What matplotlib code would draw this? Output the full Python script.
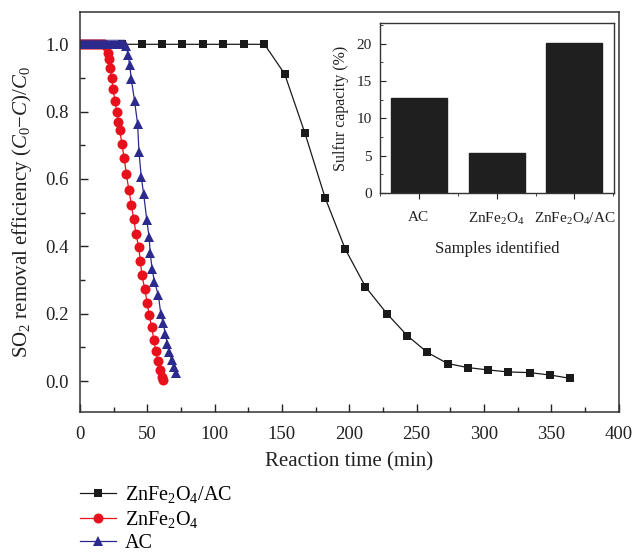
import matplotlib
matplotlib.use("Agg")
import matplotlib.pyplot as plt
from matplotlib.ticker import MultipleLocator, FixedLocator

plt.rcParams['font.family'] = ['Liberation Serif', 'DejaVu Serif']
plt.rcParams['mathtext.fontset'] = 'custom'
plt.rcParams['mathtext.rm'] = 'Liberation Serif'
plt.rcParams['mathtext.it'] = 'Liberation Serif:italic'
plt.rcParams['mathtext.bf'] = 'Liberation Serif:bold'

# ---- main data ----
t_composite = [1, 16, 31, 46, 61, 76, 91, 106, 122, 137, 152, 167, 182, 197, 212,
               228, 243, 258, 273, 288, 303, 318, 334, 349, 364]
e_composite = [1.0, 1.0, 1.0, 1.0, 1.0, 1.0, 1.0, 1.0, 1.0, 1.0, 0.912, 0.737, 0.545,
               0.392, 0.280, 0.200, 0.135, 0.085, 0.052, 0.040, 0.033, 0.027, 0.025,
               0.018, 0.008]

t_znfe = [0, 1.5, 3, 4.5, 6, 7.5, 9, 10.5, 12, 13.5, 15, 16.5, 18, 19.5,
          20.5, 21.5, 22.5, 23.5, 24.5, 26.0, 27.3, 28.5, 29.6, 31.1, 32.9, 34.4,
          36.3, 38.2, 39.9, 41.6, 43.6, 44.8, 46.0, 48.1, 49.9, 51.4, 53.2, 54.9,
          56.3, 58.0, 59.2, 61.0, 62.0]
e_znfe = [1.0, 1.0, 1.0, 1.0, 1.0, 1.0, 1.0, 1.0, 1.0, 1.0, 1.0, 1.0, 1.0, 0.995,
          0.975, 0.955, 0.930, 0.900, 0.867, 0.832, 0.800, 0.770, 0.745, 0.703,
          0.661, 0.614, 0.568, 0.522, 0.480, 0.438, 0.397, 0.357, 0.314, 0.273,
          0.232, 0.195, 0.161, 0.121, 0.089, 0.059, 0.034, 0.012, 0.003]

t_ac = [0, 1.5, 3, 4.5, 6, 7.5, 9, 10.5, 12, 13.5, 15, 16.5, 18, 19.5, 21, 22.5,
        24, 25.5, 27, 28.5, 30, 31.5, 33, 34.3,
        35.7, 36.9, 38.1, 40.5, 42.8, 43.8, 45.5, 47.3, 49.6, 51.3, 52.2, 53.5,
        55.3, 58.2, 60.0, 61.9, 63.2, 64.9, 66.3, 68.1, 69.8, 71.0]
e_ac = [1.0, 1.0, 1.0, 1.0, 1.0, 1.0, 1.0, 1.0, 1.0, 1.0, 1.0, 1.0, 1.0, 1.0, 1.0,
        1.0, 1.0, 1.0, 1.0, 1.0, 1.0, 1.0, 1.0, 0.995,
        0.968, 0.938, 0.896, 0.833, 0.762, 0.681, 0.605, 0.555, 0.478, 0.428,
        0.379, 0.334, 0.295, 0.255, 0.200, 0.171, 0.141, 0.111, 0.086, 0.062,
        0.042, 0.025]

# ---- inset data ----
samples = ['AC', 'ZnFe$_2$O$_4$', 'ZnFe$_2$O$_4$/AC']
capacity = [12.7, 5.4, 20.1]

fig = plt.figure(figsize=(6.34, 5.52), dpi=100)
ax = fig.add_axes([0.1262, 0.2536, 0.8494, 0.7247])

l1, = ax.plot(t_composite, e_composite, color='#1a1a1a', lw=0.9, marker='s',
              ms=6.2, markeredgewidth=0, label='ZnFe$_2$O$_4$/AC')
l2, = ax.plot(t_znfe, e_znfe, color='#e8101c', lw=0.9, marker='o',
              ms=7.2, markeredgewidth=0, label='ZnFe$_2$O$_4$')
l3, = ax.plot(t_ac, e_ac, color='#2c2a8c', lw=0.9, marker='^',
              ms=7.8, markeredgewidth=0, label='AC')

ax.set_xlim(0, 400)
ax.set_ylim(-0.092, 1.096)
ax.xaxis.set_major_locator(MultipleLocator(50))
ax.xaxis.set_minor_locator(MultipleLocator(25))
ax.yaxis.set_major_locator(FixedLocator([0.0, 0.2, 0.4, 0.6, 0.8, 1.0]))
ax.yaxis.set_minor_locator(FixedLocator([0.1, 0.3, 0.5, 0.7, 0.9]))
ax.set_yticklabels(['0.0', '0.2', '0.4', '0.6', '0.8', '1.0'])
ax.tick_params(which='both', direction='in', labelsize=13.5, colors='#222222',
               labelcolor='#222222', pad=8)
ax.tick_params(axis='x', which='both', pad=10)
ax.tick_params(which='major', length=6, width=1)
ax.tick_params(which='minor', length=3.5, width=1)
for s in ax.spines.values():
    s.set_color('#333333')
    s.set_linewidth(1.1)
ax.set_xlabel('Reaction time (min)', fontsize=15, color='#222222', labelpad=7)
ax.set_ylabel('SO$_2$ removal efficiency ($C_0$\u2212$C$)/$C_0$', fontsize=15,
              color='#222222', labelpad=8)

fig.legend(handles=[l1, l2, l3], loc='upper left', bbox_to_anchor=(0.114, 0.138),
           frameon=False, fontsize=14.5, handlelength=1.75, handletextpad=0.45,
           labelspacing=0.2, borderaxespad=0)

# ---- inset ----
ins = fig.add_axes([0.5994, 0.6504, 0.3691, 0.3080])
ins.bar([1, 2, 3], capacity, width=0.72, color='#1f1f1f', edgecolor='#1f1f1f')
ins.set_xlim(0.5, 3.51)
ins.set_ylim(0, 22.8)
ins.set_xticks([1, 2, 3])
ins.set_xticklabels(samples)
ins.xaxis.set_minor_locator(FixedLocator([0.5, 1.5, 2.5, 3.5]))
ins.yaxis.set_major_locator(MultipleLocator(5))
ins.yaxis.set_minor_locator(MultipleLocator(2.5))
ins.tick_params(axis='y', which='both', direction='in', labelsize=11,
                colors='#222222', pad=6)
ins.tick_params(axis='y', which='major', length=4)
ins.tick_params(axis='y', which='minor', length=2.5)
ins.tick_params(axis='x', which='both', direction='out', labelsize=11,
                colors='#222222', pad=9)
ins.tick_params(axis='x', which='major', length=4)
ins.tick_params(axis='x', which='minor', length=2.5)
for s in ins.spines.values():
    s.set_color('#333333')
    s.set_linewidth(1.0)
ins.set_ylabel('Sulfur capacity (%)', fontsize=11.5, color='#222222', labelpad=5)
ins.set_xlabel('Samples identified', fontsize=12, color='#222222', labelpad=10)

fig.savefig('out.png', dpi=100)
